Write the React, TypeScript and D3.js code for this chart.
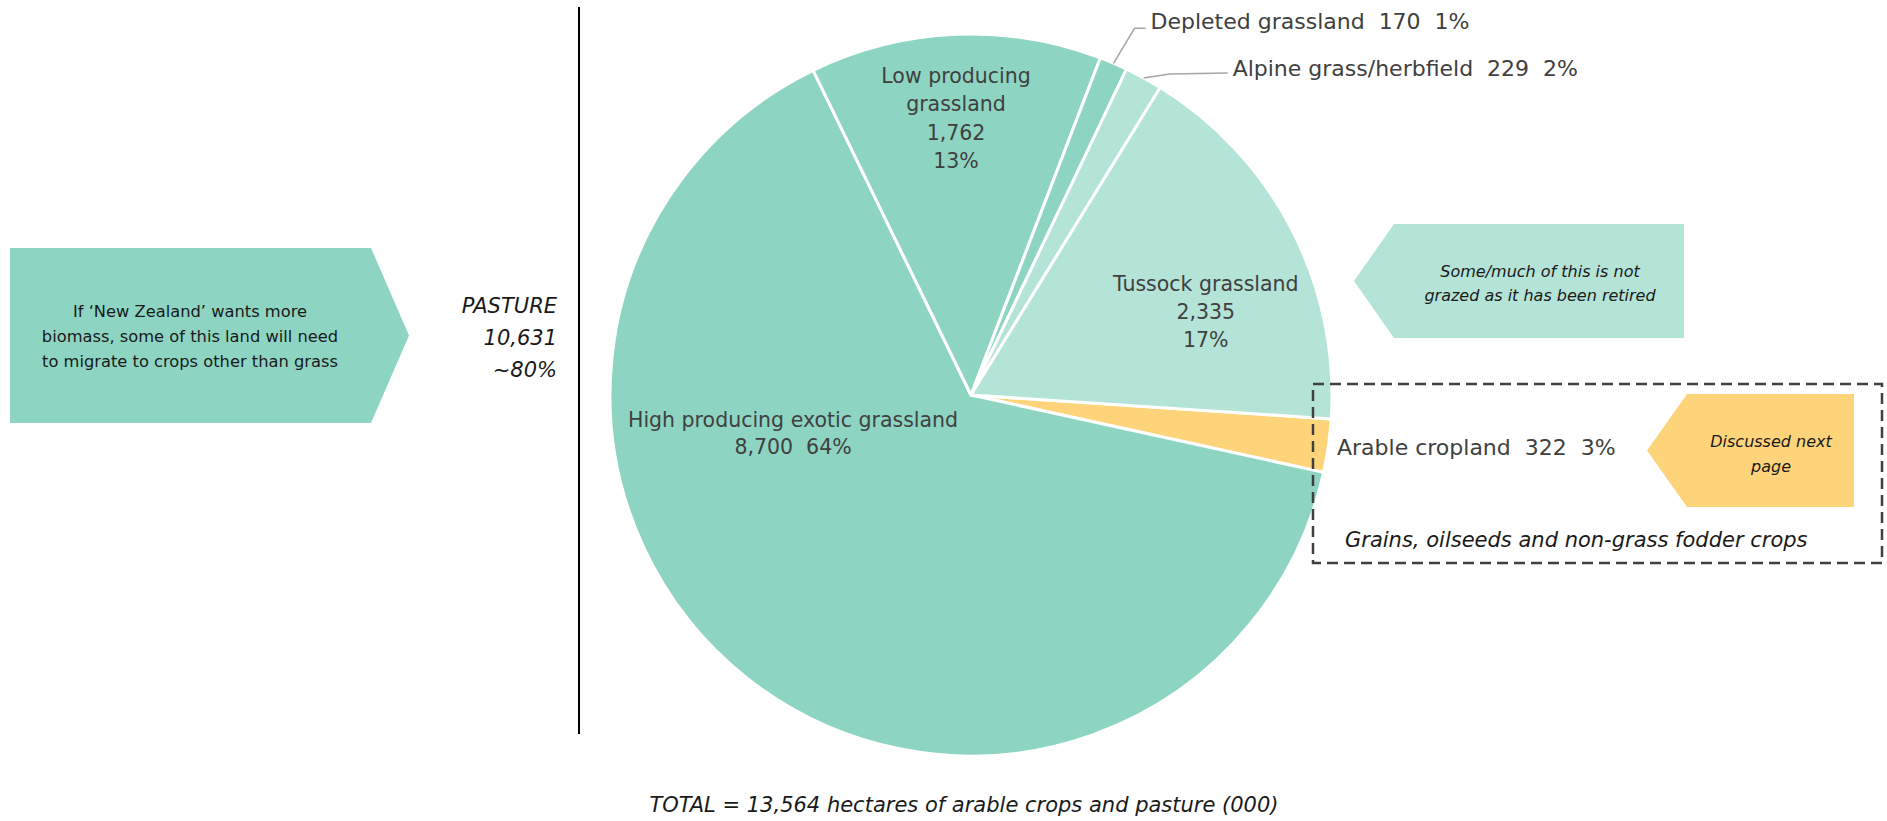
import * as React from "react";
import * as d3 from "d3";

// land use (000 ha)
const categories = [
  "Arable cropland",
  "High producing exotic grassland",
  "Low producing grassland",
  "Depleted grassland",
  "Alpine grass/herbfield",
  "Tussock grassland",
];
const areas = [322, 8700, 1762, 170, 229, 2335];
const shares = ["3%", "64%", "13%", "1%", "2%", "17%"];
const sliceColors = ["#FED47B", "#8DD5C2", "#8DD5C2", "#8DD5C2", "#B4E3D7", "#B4E3D7"];

const pastureLines = ["PASTURE", "10,631", "~80%"];
const totalNote = "TOTAL = 13,564 hectares of arable crops and pasture (000)";
const leftNote = [
  "If \u2018New Zealand\u2019 wants more",
  "biomass, some of this land will need",
  "to migrate to crops other than grass",
];
const tussockNote = ["Some/much of this is not", "grazed as it has been retired"];
const arableNote = ["Discussed next", "page"];
const cropsNote = "Grains, oilseeds and non-grass fodder crops";

const fmt = d3.format(",");
const FONT = "'DejaVu Sans', sans-serif";
const W = 1887;
const H = 821;

export default function App() {
  const cx = 971;
  const cy = 395;
  const R = 361;
  const a0 = (93.8 * Math.PI) / 180;

  const pie = d3
    .pie<number>()
    .sort(null)
    .value((d) => d)
    .startAngle(a0)
    .endAngle(a0 + 2 * Math.PI);
  const arcs = pie(areas);
  const arc = d3.arc<d3.PieArcDatum<number>>().innerRadius(0).outerRadius(R);

  // point on a circle, angle clockwise from 12 o'clock
  const polar = (ang: number, r: number): [number, number] => [
    cx + r * Math.sin(ang),
    cy - r * Math.cos(ang),
  ];
  const mid = (i: number) => (arcs[i].startAngle + arcs[i].endAngle) / 2;
  const deg = Math.PI / 180;

  // inside labels (placed by hand in the original)
  const inside = [
    { i: 2, ang: 356.9 * deg, r: 0.768, lh: 28.5, lines: ["Low producing", "grassland", fmt(areas[2]), shares[2]] },
    { i: 5, ang: 70.5 * deg, r: 0.69, lh: 28, lines: ["Tussock grassland", fmt(areas[5]), shares[5]] },
    { i: 1, ang: 258 * deg, r: 0.504, lh: 27, lines: [categories[1], `${fmt(areas[1])}  ${shares[1]}`] },
  ];
  const fsIn = 20.5;

  // leader lines for the thin slices
  const depEdge = polar(mid(3), R);
  const depElbow: [number, number] = [depEdge[0] + 21, depEdge[1] - 35];
  const depEnd: [number, number] = [depElbow[0] + 11, depElbow[1]];
  const alpEdge = polar(mid(4), R);
  const alpElbow: [number, number] = [alpEdge[0] + 26, alpEdge[1] - 4];
  const alpEnd: [number, number] = [alpEdge[0] + 84, alpEdge[1] - 5];
  const arableY = polar(mid(0), R)[1];

  const line = d3.line();

  const arrowRight = (x0: number, y0: number, x1: number, tip: number, y1: number) =>
    `M${x0},${y0}H${x1}L${tip},${(y0 + y1) / 2}L${x1},${y1}H${x0}Z`;
  const arrowLeft = (tip: number, x1: number, y0: number, x2: number, y1: number) =>
    `M${tip},${(y0 + y1) / 2}L${x1},${y0}H${x2}V${y1}H${x1}Z`;

  return (
    <svg
      width={W}
      height={H}
      style={{ position: "absolute", left: 0, top: 0, background: "#fff" }}
      fontFamily={FONT}
    >
      {/* left callout */}
      <path d={arrowRight(10, 248, 371, 409, 423)} fill="#8DD5C2" />
      {leftNote.map((t, k) => (
        <text key={k} x={190} y={317 + k * 25} textAnchor="middle" fontSize={16.3} fill="#1a1a1a">
          {t}
        </text>
      ))}

      {pastureLines.map((t, k) => (
        <text key={k} x={557} y={313 + k * 32} textAnchor="end" fontSize={21} fontStyle="italic" fill="#1a1a1a">
          {t}
        </text>
      ))}
      <line x1={579} x2={579} y1={7} y2={734} stroke="#000" strokeWidth={2} />

      {/* pie */}
      {arcs.map((a, i) => (
        <path
          key={categories[i]}
          d={arc(a) || ""}
          transform={`translate(${cx},${cy})`}
          fill={sliceColors[i]}
          stroke="#fff"
          strokeWidth={3}
          strokeLinejoin="round"
        />
      ))}

      {inside.map((lab) => {
        const [lx, ly] = polar(lab.ang, lab.r * R);
        const n = lab.lines.length;
        return lab.lines.map((t, k) => (
          <text
            key={`${lab.i}-${k}`}
            x={lx}
            y={ly + (k - (n - 1) / 2) * lab.lh + 0.36 * fsIn}
            textAnchor="middle"
            fontSize={fsIn}
            fill="#404040"
            style={{ whiteSpace: "pre" }}
          >
            {t}
          </text>
        ));
      })}

      <path d={line([depEdge, depElbow, depEnd]) || ""} fill="none" stroke="#a6a6a6" strokeWidth={1.5} />
      <text x={depEnd[0] + 5} y={depEnd[1] + 1} fontSize={22} fill="#404040" style={{ whiteSpace: "pre" }}>
        {`${categories[3]}  ${fmt(areas[3])}  ${shares[3]}`}
      </text>
      <path d={line([alpEdge, alpElbow, alpEnd]) || ""} fill="none" stroke="#a6a6a6" strokeWidth={1.5} />
      <text x={alpEnd[0] + 5} y={alpEnd[1] + 3} fontSize={22} fill="#404040" style={{ whiteSpace: "pre" }}>
        {`${categories[4]}  ${fmt(areas[4])}  ${shares[4]}`}
      </text>

      {/* tussock callout */}
      <path d={arrowLeft(1354, 1394, 224, 1684, 338)} fill="#B4E3D7" />
      {tussockNote.map((t, k) => (
        <text key={k} x={1540} y={277 + k * 24} textAnchor="middle" fontSize={16} fontStyle="italic" fill="#1a1a1a">
          {t}
        </text>
      ))}

      {/* arable box */}
      <rect
        x={1313}
        y={384}
        width={569}
        height={179}
        fill="none"
        stroke="#404040"
        strokeWidth={2.5}
        strokeDasharray="11 6"
      />
      <text x={cx + R + 5} y={arableY + 9} fontSize={22} fill="#404040" style={{ whiteSpace: "pre" }}>
        {`${categories[0]}  ${fmt(areas[0])}  ${shares[0]}`}
      </text>
      <path d={arrowLeft(1647, 1687, 394, 1854, 507)} fill="#FED47B" />
      {arableNote.map((t, k) => (
        <text key={k} x={1771} y={447 + k * 25} textAnchor="middle" fontSize={16} fontStyle="italic" fill="#1a1a1a">
          {t}
        </text>
      ))}
      <text x={1345} y={547} fontSize={21} fontStyle="italic" fill="#1a1a1a">
        {cropsNote}
      </text>

      <text x={964} y={812} textAnchor="middle" fontSize={21} fontStyle="italic" fill="#1a1a1a">
        {totalNote}
      </text>
    </svg>
  );
}
